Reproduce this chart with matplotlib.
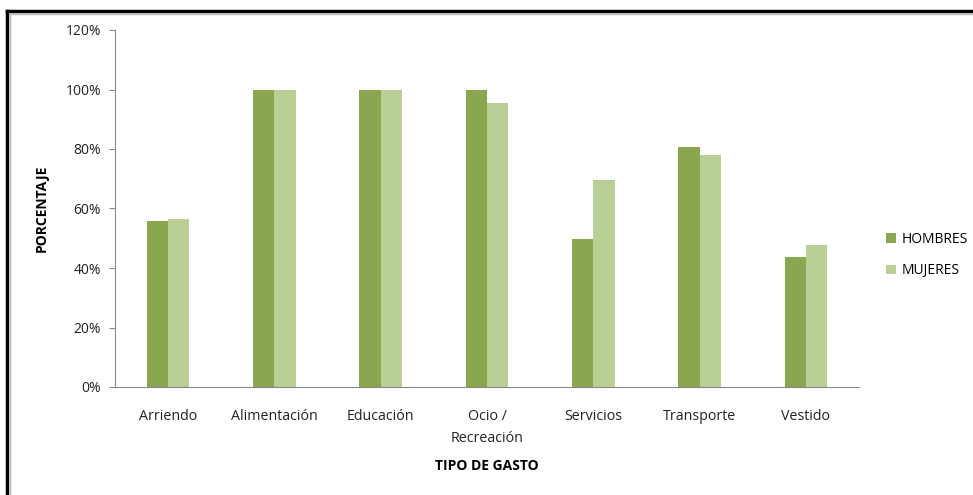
import numpy as np
import matplotlib
matplotlib.use("Agg")
import matplotlib.pyplot as plt
from matplotlib.lines import Line2D
from matplotlib.ticker import FuncFormatter

categorias = ["Arriendo", "Alimentación", "Educación", "Ocio /\nRecreación",
              "Servicios", "Transporte", "Vestido"]
hombres = [0.558, 1.00, 1.00, 1.00, 0.497, 0.807, 0.437]
mujeres = [0.565, 1.00, 1.00, 0.955, 0.696, 0.780, 0.477]
series = ["HOMBRES", "MUJERES"]

plt.rcParams['font.family'] = ['Open Sans', 'DejaVu Sans']

fig = plt.figure(figsize=(9.73, 4.95), dpi=100)
ax = fig.add_axes([115/973, 1 - 387/495, 744/973, 357/495])

x = np.arange(len(categorias)) + 0.5
w = 0.2
ax.bar(x - w/2, hombres, w, color='#8aa64f', label=series[0])
ax.bar(x + w/2, mujeres, w, color='#b9cf95', label=series[1])

ax.set_xlim(0, len(categorias))
ax.set_ylim(0, 1.2)
ax.set_yticks(np.arange(0, 1.21, 0.2))
ax.yaxis.set_major_formatter(FuncFormatter(lambda v, p: f"{v*100:.0f}%"))
ax.set_xticks(x)
ax.set_xticklabels(categorias, fontsize=10.3, color='#222222', linespacing=1.65)
ax.tick_params(axis='x', length=0, pad=16)
ax.tick_params(axis='y', labelsize=10, colors='#222222', length=4, direction='out', pad=6)
ax.tick_params(axis='y', color='#888888')

for s in ['top', 'right']:
    ax.spines[s].set_visible(False)
for s in ['left', 'bottom']:
    ax.spines[s].set_color('#888888')

ax.set_ylabel("PORCENTAJE", fontsize=10, fontweight='bold', labelpad=12)
ax.set_xlabel("TIPO DE GASTO", fontsize=10, fontweight='bold', labelpad=9)

ax.legend(loc='center left', bbox_to_anchor=(1.02, 0.37), frameon=False,
          fontsize=10, handlelength=0.7, handleheight=0.7, labelspacing=1.2,
          handletextpad=0.4)

# marco negro arriba y a la izquierda
fig.add_artist(Line2D([7/973, 1], [1 - 11/495, 1 - 11/495], color='black', lw=2.5, transform=fig.transFigure))
fig.add_artist(Line2D([7/973, 7/973], [0, 1 - 11/495], color='black', lw=2.5, transform=fig.transFigure))
fig.add_artist(Line2D([9.5/973, 1], [1 - 13.5/495, 1 - 13.5/495], color='#bbbbbb', lw=1, transform=fig.transFigure))
fig.add_artist(Line2D([9.5/973, 9.5/973], [0, 1 - 13.5/495], color='#bbbbbb', lw=1, transform=fig.transFigure))

fig.savefig("out.png", dpi=100)
